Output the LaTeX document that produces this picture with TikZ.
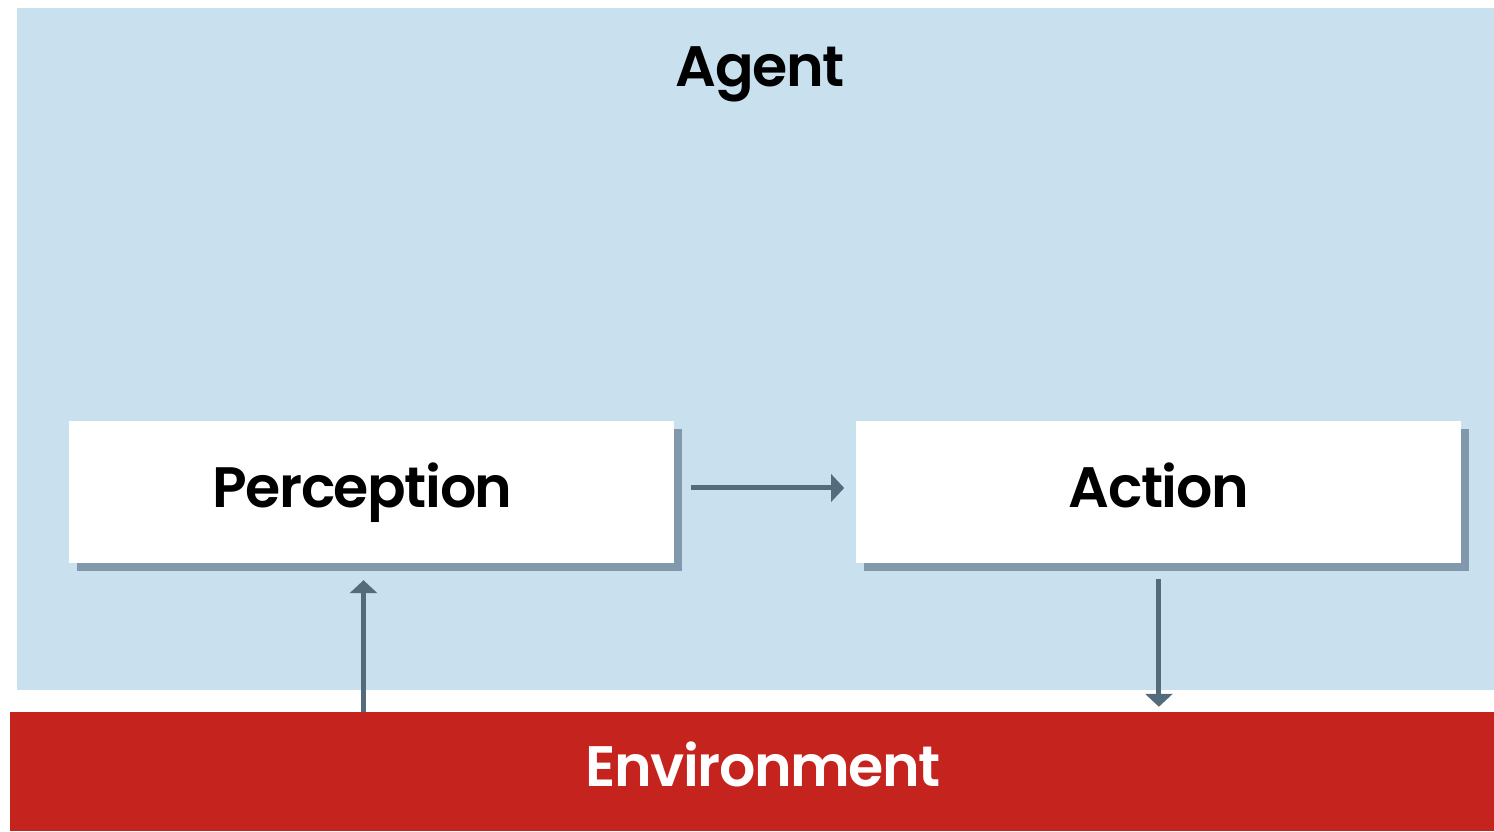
\documentclass[tikz,border=0pt]{standalone}
\usepackage{fontspec}
\setmainfont{Poppins}
\newfontfamily\labelfont{Poppins SemiBold}[LetterSpace=-2.5]
\usetikzlibrary{positioning, shadows, arrows.meta}
\definecolor{agentblue}{HTML}{C9E0EE}
\definecolor{envred}{HTML}{C5231E}
\definecolor{shadowgray}{HTML}{8299AD}
\definecolor{arrowgray}{HTML}{546B7C}
\tikzstyle{every node}=[rectangle, inner sep=0pt, font=\fontsize{57}{64}\labelfont]
\tikzstyle{stepbox}=[fill=white, minimum width=605pt, minimum height=142pt, text height=44pt, text depth=13pt, drop shadow={shadow xshift=8pt, shadow yshift=-8pt, fill=shadowgray, opacity=1}]
\tikzstyle{flow}=[-{Triangle[length=13pt, width=27pt]}, line width=5pt, arrowgray]

\begin{document}
\begin{tikzpicture}[x=1pt, y=1pt]
	\useasboundingbox (0,0) rectangle (1494,832);
	\node		[fill=agentblue, minimum width=1477pt, minimum height=682pt]	(agent) at (755.5,483) {};
	\node		[fill=envred, minimum width=1484pt, minimum height=119pt]	(env) at (752,60.5) {};
	\node		[anchor=base]		(agenttext) at (760,745)	{Agent};
	\node		[anchor=base, text=white]	(envtext) at (763,45)	{Environment};
	\node		[stepbox]		(perception) at (371.5,340)	{Perception\kern18pt};
	\node		[stepbox]		(action) [right=182pt of perception]	{Action};
	\draw[flow, shorten <=17pt, shorten >=12pt] ([yshift=4pt]perception.east) -- ([yshift=4pt]action.west);
	\draw[flow, shorten >=17pt] ([xshift=-8pt]perception.south |- env.north) -- ([xshift=-8pt]perception.south);
	\draw[flow, shorten <=16pt, shorten >=5pt] (action.south) -- (action.south |- env.north);
	
\end{tikzpicture}
\end{document}
